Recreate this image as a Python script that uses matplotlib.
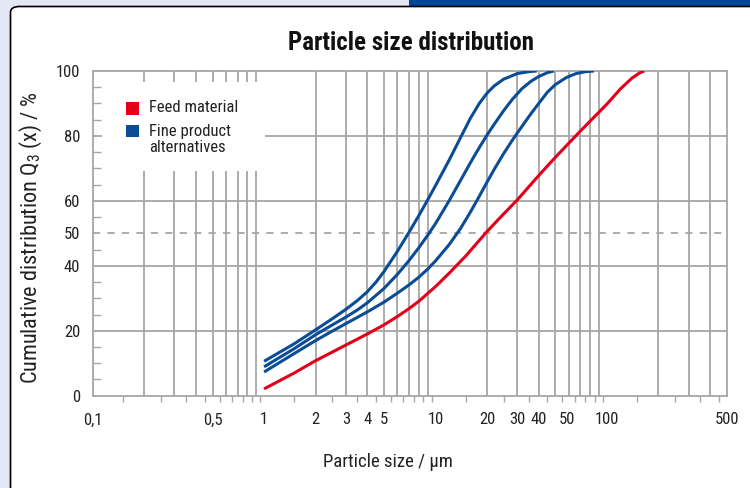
import numpy as np
import matplotlib
matplotlib.use("Agg")
import matplotlib.pyplot as plt
from matplotlib.patches import Rectangle, FancyBboxPatch
from matplotlib.ticker import FixedLocator, NullFormatter
from matplotlib.transforms import ScaledTranslation
from matplotlib import font_manager

# ---------------- data ----------------
x_feed = [1, 1.5, 2, 3, 4, 5, 6, 7, 8, 10, 12, 15, 20, 25, 30, 40, 50, 70, 100, 120, 140, 155, 165]
q_feed = [2.1, 7, 10.8, 15.6, 19, 21.8, 24.4, 26.8, 29.1, 33.6, 37.7, 43, 50.6, 56, 60.3,
          67.8, 73.4, 81.5, 89.8, 94.5, 97.8, 99.4, 100]

x_fine1 = [1, 1.5, 2, 2.5, 3, 3.5, 4, 4.5, 5, 6, 7, 8, 9, 10, 12, 14, 16, 18, 20, 22, 25, 30, 35, 39]
q_fine1 = [10.6, 16, 20.3, 23.7, 26.6, 29.3, 32, 35, 38.2, 44.5, 50.3, 55.5, 60.3, 64.7, 72.5,
           79.5, 85.5, 90, 93.2, 95.4, 97.5, 99.2, 99.8, 100]

x_fine2 = [1, 1.5, 2, 2.5, 3, 3.5, 4, 5, 6, 7, 8, 9, 10, 12, 14, 16, 18, 20, 22, 25, 28, 32, 36,
           40, 45, 49]
q_fine2 = [8.9, 14.5, 18.8, 21.8, 24.2, 26.4, 28.6, 33, 37.4, 41.6, 45.6, 49.4, 53, 60, 66.3,
           71.8, 76.4, 80.3, 83.6, 87.8, 91.2, 94.6, 96.8, 98.3, 99.5, 100]

x_fine3 = [1, 1.5, 2, 2.5, 3, 4, 5, 6, 7, 8, 9, 10, 12, 14, 16, 18, 20, 22, 25, 28, 32, 36, 40,
           45, 50, 58, 66, 75, 84]
q_fine3 = [7.3, 13, 17, 19.9, 22.2, 25.8, 28.8, 31.6, 34.1, 36.5, 39, 41.5, 46.5, 51.5, 56.6,
           61.4, 65.8, 69.7, 74.6, 78.6, 83, 86.8, 90, 93.5, 95.8, 98, 99.2, 99.8, 100]

x_ticks = [0.1, 0.5, 1, 2, 3, 4, 5, 10, 20, 30, 40, 50, 100, 500]
x_labels = ["0,1", "0,5", "1", "2", "3", "4", "5", "10", "20", "30", "40", "50", "100", "500"]
y_ticks = [0, 20, 40, 50, 60, 80, 100]

RED = "#e3001b"
BLUE = "#0a4d96"
GRID = "#a6a6a6"
W, H = 750, 488

# pick a narrow sans if there is one
installed = {f.name for f in font_manager.fontManager.ttflist}
FONT = next((f for f in ['Liberation Sans Narrow', 'DejaVu Sans Condensed', 'Roboto Condensed',
                         'Roboto', 'DejaVu Sans'] if f in installed), 'DejaVu Sans')

plt.rcParams['font.family'] = [FONT, 'DejaVu Sans']
plt.rcParams['mathtext.fontset'] = 'custom'
plt.rcParams['mathtext.rm'] = FONT
plt.rcParams['mathtext.it'] = FONT

fig = plt.figure(figsize=(7.5, 4.88), dpi=100)
fig.patch.set_facecolor("#e4e8f4")

def fx(px):
    return px / W

def fy(py):
    return 1 - py / H

# background panel + blue band
fig.patches.append(Rectangle((fx(409), fy(6)), 1, 1, transform=fig.transFigure,
                             facecolor="#00479a", edgecolor="none", zorder=-2))
fig.patches.append(FancyBboxPatch((fx(10.5), -0.05), 1.1, fy(6.5) + 0.05,
                                  boxstyle="round,pad=0,rounding_size=0.012",
                                  transform=fig.transFigure, facecolor="white",
                                  edgecolor="black", linewidth=1.2, zorder=-1))

ax = fig.add_axes([fx(92.7), fy(395.7), fx(726.7) - fx(92.7), fy(71) - fy(395.7)])
ax.set_xscale("log")
ax.set_xlim(0.1, 500)
ax.set_ylim(0, 100)
ax.set_facecolor("none")

# grid lines: 2..9 x 10^n
for dec in [0.1, 1, 10, 100]:
    for k in range(2, 10):
        v = k * dec
        if v < 500:
            ax.axvline(v, color=GRID, lw=1.3, zorder=0.8)
for v in [20, 40, 60, 80]:
    ax.axhline(v, color=GRID, lw=1.3, zorder=0.8)
ax.axhline(50, color=GRID, lw=1.3, ls=(0, (4, 4)), zorder=0.8)

# white box behind the legend
ax.add_patch(Rectangle((0.014, 0.692), 0.258, 0.275, transform=ax.transAxes,
                       facecolor="white", edgecolor="none", zorder=1))

ax.plot(x_feed, q_feed, color=RED, lw=2.2, zorder=3, solid_capstyle="butt", solid_joinstyle="round")
for xs, qs in [(x_fine1, q_fine1), (x_fine2, q_fine2), (x_fine3, q_fine3)]:
    ax.plot(xs, qs, color=BLUE, lw=2.2, zorder=3, solid_capstyle="butt", solid_joinstyle="round")

for s in ax.spines.values():
    s.set_color(GRID)
    s.set_linewidth(1.3)

ax.xaxis.set_major_locator(FixedLocator(x_ticks))
ax.set_xticklabels(x_labels)
minor_x = [(k + 0.5) * d for d in [0.1, 1, 10, 100] for k in range(1, 10) if (k + 0.5) * d < 500]
ax.xaxis.set_minor_locator(FixedLocator(minor_x))
ax.xaxis.set_minor_formatter(NullFormatter())
ax.tick_params(axis="x", which="major", length=0, pad=12, labelsize=12, labelcolor="#222222")
ax.tick_params(axis="x", which="minor", length=4, width=1, color=GRID, direction="out")
# the "50" label sits a bit right of its grid line in the original
for lab in ax.get_xticklabels():
    if lab.get_text() == "50":
        lab.set_transform(lab.get_transform() + ScaledTranslation(0.12, 0, fig.dpi_scale_trans))

ax.yaxis.set_major_locator(FixedLocator(y_ticks))
ax.yaxis.set_minor_locator(FixedLocator([v for v in range(5, 100, 5) if v not in y_ticks]))
ax.tick_params(axis="y", which="major", length=0, pad=9, labelsize=12, labelcolor="#222222")
ax.tick_params(axis="y", which="minor", length=6, width=1, color=GRID, direction="in")
ax.set_axisbelow(False)

# texts
fig.text(fx(411), fy(43), "Particle size distribution", ha="center", va="center",
         fontsize=18, fontweight="bold", color="#111111")
fig.text(fx(388), fy(462), "Particle size / µm", ha="center", va="center",
         fontsize=13.5, color="#222222")
fig.text(fx(31), fy(238), "Cumulative distribution Q$_3$ (x) / %", ha="center", va="center",
         rotation=90, fontsize=16, color="#222222")

# legend
fig.patches.append(Rectangle((fx(126), fy(114.5)), fx(13), 12.5 / H, transform=fig.transFigure,
                             facecolor=RED, edgecolor="none", zorder=5))
fig.patches.append(Rectangle((fx(126), fy(137)), fx(13), 12.5 / H, transform=fig.transFigure,
                             facecolor=BLUE, edgecolor="none", zorder=5))
fig.text(fx(149), fy(108), "Feed material", ha="left", va="center", fontsize=12, color="#222222")
fig.text(fx(149), fy(139.5), "Fine product\nalternatives", ha="left", va="center",
         fontsize=12, color="#222222", linespacing=1.1)

fig.savefig("out.png", dpi=100, facecolor=fig.get_facecolor())
